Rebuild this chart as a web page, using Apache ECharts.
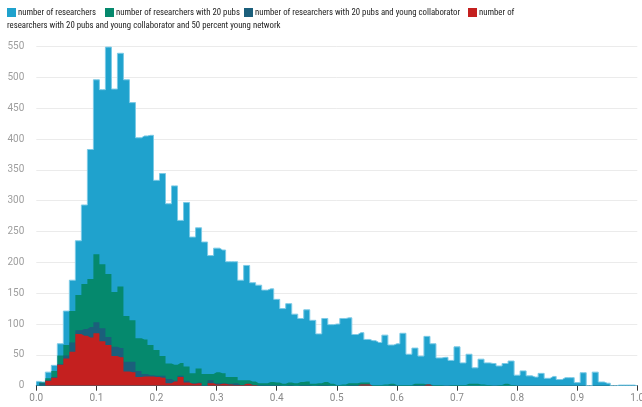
<!DOCTYPE html>
<html>
<head>
<meta charset="utf-8">
<script src="https://cdn.jsdelivr.net/npm/echarts@6/dist/echarts.min.js"></script>
<style>
html,body{margin:0;padding:0;background:#fff;}
#chart{width:642px;height:407px;}
</style>
</head>
<body>
<div id="chart"></div>
<script>
var bins = [0,0.01,0.02,0.03,0.04,0.05,0.06,0.07,0.08,0.09,
0.1,0.11,0.12,0.13,0.14,0.15,0.16,0.17,0.18,0.19,
0.2,0.21,0.22,0.23,0.24,0.25,0.26,0.27,0.28,0.29,
0.3,0.31,0.32,0.33,0.34,0.35,0.36,0.37,0.38,0.39,
0.4,0.41,0.42,0.43,0.44,0.45,0.46,0.47,0.48,0.49,
0.5,0.51,0.52,0.53,0.54,0.55,0.56,0.57,0.58,0.59,
0.6,0.61,0.62,0.63,0.64,0.65,0.66,0.67,0.68,0.69,
0.7,0.71,0.72,0.73,0.74,0.75,0.76,0.77,0.78,0.79,
0.8,0.81,0.82,0.83,0.84,0.85,0.86,0.87,0.88,0.89,
0.9,0.91,0.92,0.93,0.94,0.95,0.96,0.97,0.98,0.99,
1.0];

var seriesNames = [
  'number of researchers',
  'number of researchers with 20 pubs',
  'number of researchers with 20 pubs and young collaborator',
  'number of researchers with 20 pubs and young collaborator and 50 percent young network'
];

var researchers = [7,6,22,33,68,121,171,235,293,383,
496,480,549,481,539,496,459,402,405,406,
333,344,295,324,268,297,241,256,233,211,
223,220,201,201,171,195,167,163,155,157,
140,125,133,116,109,123,106,84,109,99,
100,109,110,83,86,75,73,70,82,66,
68,85,51,61,48,80,68,45,46,41,
63,37,51,29,43,37,36,32,36,40,
17,24,16,14,20,12,15,10,13,13,
5,21,0,22,6,4,0,1,1,1,
0];

var with20pubs = [0,5,12,24,49,66,121,147,165,173,
213,197,181,152,161,113,106,77,75,66,
58,48,36,34,37,31,20,28,19,19,
22,20,14,14,9,9,7,4,4,6,
5,3,5,4,6,7,3,4,6,3,
1,2,4,4,5,5,1,1,2,3,
1,1,1,3,3,2,1,1,0,1,
1,1,3,3,2,1,0,1,3,1,
0,0,0,0,0,0,0,0,0,0,
0,0,0,0,0,0,0,0,0,0,
0];

var withYoungCollab = [0,4,9,14,35,49,70,90,92,95,
103,93,79,63,61,39,39,24,19,17,
16,16,11,8,16,8,4,5,1,9,
4,4,3,4,1,3,1,1,1,1,
1,0,1,0,1,1,0,1,1,0,
0,0,1,1,2,2,0,0,0,1,
0,0,0,1,1,2,0,0,0,0,
0,0,0,0,0,0,0,0,0,0,
0,0,0,0,0,0,0,0,0,0,
0,0,0,0,0,0,0,0,0,0,
0];

var withYoungNetwork = [0,0,8,13,34,44,55,84,81,78,
85,72,66,48,46,23,22,14,15,15,
14,13,4,7,14,5,3,4,0,4,
2,3,2,1,1,3,1,0,0,0,
0,0,0,0,0,0,0,0,0,0,
0,0,0,0,2,2,0,0,0,0,
0,0,0,0,0,2,0,0,0,0,
0,0,0,0,0,0,0,0,0,0,
0,0,0,0,0,0,0,0,0,0,
0,0,0,0,0,0,0,0,0,0,
0];

var colors = ['#1fa2cd', '#05896d', '#1b5f7b', '#c4201f'];
var lineColors = ['#7ccae6', '#05896d', '#1b5f7b', '#c4201f'];
var seriesData = [researchers, with20pubs, withYoungCollab, withYoungNetwork];

var legendFont = '"Roboto Condensed", "Liberation Sans Narrow", "DejaVu Sans Condensed", Roboto, sans-serif';
var legendLefts = [7, 105, 244, 468];

var chart = echarts.init(document.getElementById('chart'), null, {renderer: 'canvas'});

var legends = seriesNames.map(function (name, i) {
  return {
    left: legendLefts[i],
    top: 8,
    padding: 0,
    icon: 'rect',
    itemWidth: 9,
    itemHeight: 9,
    selectedMode: false,
    data: [name],
    formatter: i === 3 ? function () { return 'number of'; } : undefined,
    textStyle: { fontFamily: legendFont, fontSize: 8.75, color: '#222', padding: [0, 0, 0, -3] }
  };
});

var option = {
  animation: false,
  color: colors,
  textStyle: { fontFamily: 'Roboto, sans-serif' },
  legend: legends,
  graphic: [{
    type: 'text',
    left: 7,
    top: 21,
    style: {
      text: 'researchers with 20 pubs and young collaborator and 50 percent young network',
      font: '8.75px ' + legendFont,
      fill: '#222'
    }
  }],
  grid: { left: 36.3, right: 4.7, top: 46.5, bottom: 21.3, containLabel: false, outerBoundsMode: 'none' },
  xAxis: {
    type: 'category',
    data: bins,
    boundaryGap: false,
    axisLine: { lineStyle: { color: '#333', width: 1 } },
    axisTick: { length: 5, lineStyle: { color: '#333' }, interval: function (idx) { return idx % 10 === 0; } },
    axisLabel: {
      interval: function (idx) { return idx % 10 === 0; },
      formatter: function (v) { return Number(v).toFixed(1); },
      color: '#8a8a8a', fontSize: 10, margin: 8, fontFamily: 'Roboto, sans-serif',
      hideOverlap: false
    },
    splitLine: { show: false }
  },
  yAxis: {
    type: 'value',
    min: 0, max: 550, interval: 50,
    axisLine: { show: false },
    axisTick: { show: false },
    axisLabel: { color: '#9e9e9e', fontSize: 10, margin: 12, fontFamily: 'Roboto, sans-serif' },
    splitLine: { lineStyle: { color: '#ebebeb', width: 1 } }
  },
  series: seriesNames.map(function (name, i) {
    return {
      name: name,
      type: 'line',
      step: 'middle',
      data: seriesData[i],
      symbol: 'none',
      showSymbol: false,
      color: colors[i],
      lineStyle: { color: lineColors[i], width: i === 0 ? 1 : 0 },
      areaStyle: { color: colors[i], opacity: 1 },
      z: 2 + i
    };
  })
};
chart.setOption(option);
</script>
</body>
</html>
